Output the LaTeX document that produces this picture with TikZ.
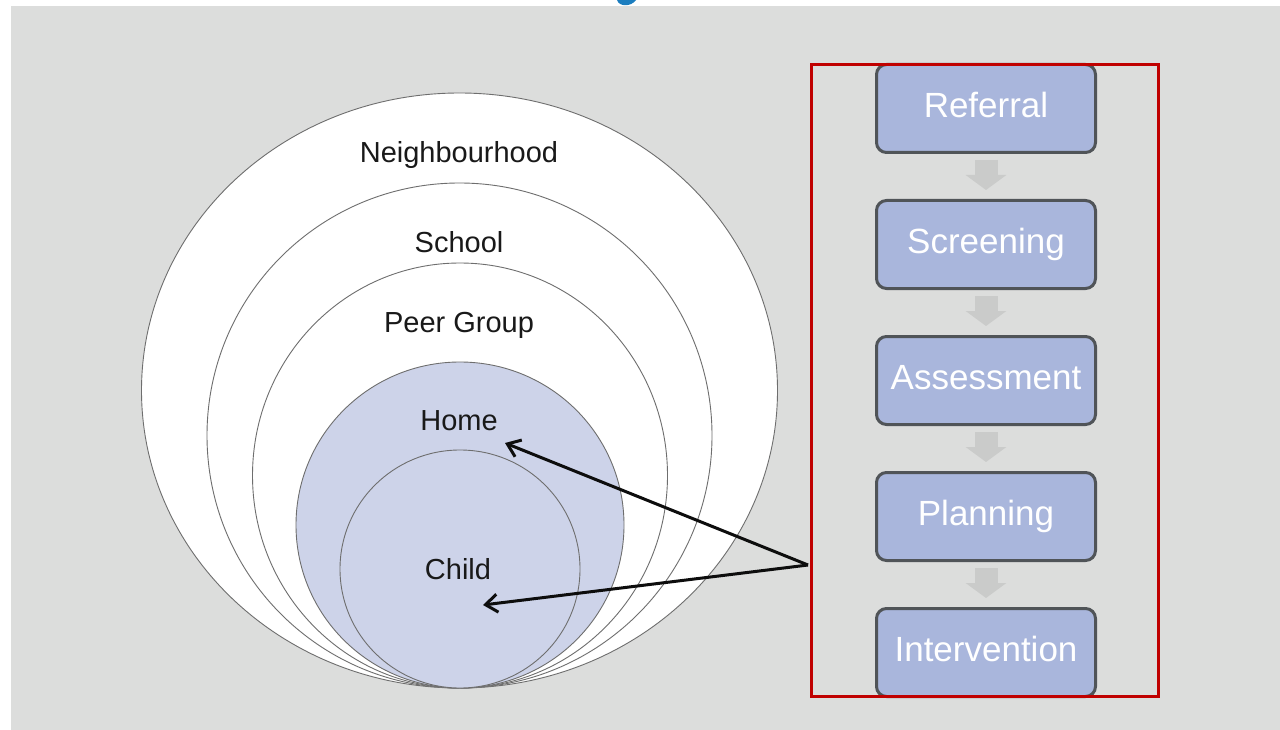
\documentclass[tikz,border=0pt]{standalone}
\usepackage{fontspec}
\setmainfont{Liberation Sans}
\usepackage{xcolor}
\usetikzlibrary{positioning,shapes.geometric,arrows.meta}
\definecolor{slidegray}{HTML}{DCDDDC}
\definecolor{ringline}{HTML}{6E6E6E}
\definecolor{homefill}{HTML}{CDD3E9}
\definecolor{stagefill}{HTML}{A9B6DC}
\definecolor{stageline}{HTML}{505458}
\definecolor{flowgray}{HTML}{CACBCA}
\definecolor{framered}{HTML}{C00000}
\definecolor{titleblue}{HTML}{1B7DBF}

\begin{document}
\begin{tikzpicture}[x=1pt,y=-1pt,node distance=45pt,
   ring/.style={ellipse,draw=ringline,fill=white,line width=0.9pt,inner sep=0pt},
   home ring/.style={ring,fill=homefill},
   ring label/.style={anchor=base,text=black!90,font=\fontsize{29pt}{29pt}\selectfont},
   stage/.style={rectangle,rounded corners=10pt,draw=stageline,fill=stagefill,line width=3pt,
      minimum width=219pt,minimum height=88pt,text=white,text height=25pt,text depth=7pt,
      font=\fontsize{35pt}{35pt}\selectfont},
   flow/.style={draw=flowgray,line width=23pt,-{Triangle[length=15pt,width=40pt]}},
   pointer/.style={draw=black!95,line width=3pt,-{Straight Barb[length=12pt,width=18pt]}}]

  \useasboundingbox (0,0) rectangle (1280,730);
  \fill[white] (0,0) rectangle (1280,730);
  \fill[slidegray] (11,6) rectangle (1280,730);
  \fill[titleblue] (617,0) .. controls (619,7) and (631,7) .. (636,0) -- cycle;

  \node[ring,minimum width=636pt,minimum height=595pt] (nbhd) at (459.5,390.5) {};
  \node[ring,minimum width=505pt,minimum height=505pt] (school) at (459.5,435.5) {};
  \node[ring,minimum width=415pt,minimum height=425pt] (peer) at (460,475.5) {};
  \node[home ring,minimum width=328pt,minimum height=326pt] (home) at (460,525) {};
  \node[home ring,minimum width=240pt,minimum height=238pt] (child) at (460,569) {};

  \node[ring label] (nbhdtext) at (459,163) {Neighbourhood};
  \node[ring label] (schooltext) at (459,252) {School};
  \node[ring label] (peertext) at (459,332) {Peer Group};
  \node[ring label] (hometext) at (459,430) {Home};
  \node[ring label] (childtext) at (458,579) {Child};

  \node[stage] (ref) at (986,108.5) {Referral};
  \node[stage] (scr) [below=of ref] {Screening};
  \node[stage] (ass) [below=of scr] {Assessment};
  \node[stage] (pla) [below=of ass] {Planning};
  \node[stage] (int) [below=of pla] {Intervention};

  \foreach \from/\to in {ref/scr,scr/ass,ass/pla,pla/int}
    \draw[flow] ([yshift=-6pt]\from.south) -- ([yshift=9pt]\to.north);

  \node[draw=framered,line width=3pt,minimum width=347pt,minimum height=632pt,inner sep=0pt]
    (frame) at (985,380.5) {};

  \coordinate (src) at (808,565);
  \coordinate (hometip) at (505,443);
  \coordinate (childtip) at (483,605);
  \foreach \tip in {hometip,childtip} \draw[pointer] (src) -- (\tip);
\end{tikzpicture}
\end{document}
